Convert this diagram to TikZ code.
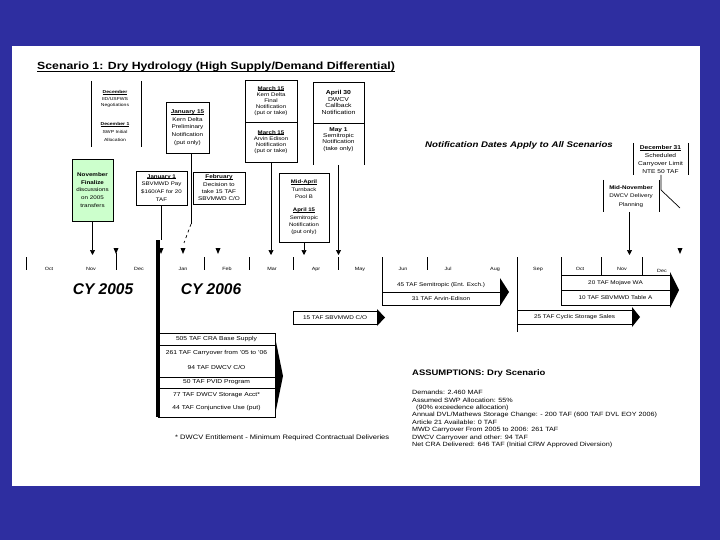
\documentclass[tikz,border=0pt]{standalone}
\usepackage{fontspec}
\setmainfont[FakeStretch=1.18]{Liberation Sans}
\newfontfamily\cyfont{Liberation Sans}
\usetikzlibrary{arrows.meta}
\definecolor{bgblue}{RGB}{46,46,160}
\definecolor{notegreen}{RGB}{204,255,204}
\newcommand\uhd[1]{\setbox0\hbox{\textbf{#1}}\rlap{\rule[-0.6pt]{\wd0}{0.3pt}}\box0}
\newcommand\uttl[1]{\setbox0\hbox{#1}\rlap{\rule[-1.6pt]{\wd0}{0.6pt}}\box0}
\newcommand\fs[2]{\fontsize{#1}{#2}\selectfont}
\tikzset{
  txt/.style={align=center, inner sep=0pt},
  boxed/.style={draw, line width=0.7pt},
  conn/.style={line width=0.7pt, -{Triangle[length=5pt,width=5pt]}},
  plain/.style={line width=0.7pt},
  month/.style={font=\fs{4.6}{5.5}, inner sep=0pt},
  bartxt/.style={font=\fs{5.4}{6}, inner sep=0pt},
  stacktxt/.style={font=\fs{5.7}{6}, inner sep=0pt},
  tri/.pic={\fill (-2.5pt,3pt) -- (2.5pt,3pt) -- (0pt,-3pt) -- cycle;},
}
\begin{document}
\begin{tikzpicture}[x=1pt,y=-1pt]
\fill[bgblue] (0,0) rectangle (720,540);
\useasboundingbox (0,0) rectangle (720,540);
\fill[white] (12,46) rectangle (700,486);

% title
\node[anchor=west, font=\fs{10.4}{12}\bfseries, inner sep=0pt] (title) at (37,67)
  {\uttl{Scenario 1: Dry Hydrology (High Supply/Demand Differential)}};

% December group (side lines only)
\draw[plain] (91,81) -- (91,147);
\draw[plain] (141,81) -- (141,147);
\node[txt, font=\fs{4.3}{6.8}] (dec) at (115,99) {\uhd{December}\\IID/USFWS\\Negotiations};
\node[txt, font=\fs{4.3}{7.6}] (dec1) at (115,132) {\uhd{December 1}\\SWP Initial\\Allocation};

% January 15
\node[txt, boxed, font=\fs{5.4}{7.7}, minimum width=43, minimum height=51] (jan15) at (187.5,127.5)
  {\uhd{January 15}\\Kern Delta\\Preliminary\\Notification\\(put only)};

% March 15 double box
\node[txt, boxed, font=\fs{5.2}{6.1}, minimum width=52, minimum height=42] (marA) at (271,101)
  {\uhd{March 15}\\Kern Delta\\Final\\Notification\\(put or take)};
\node[txt, boxed, font=\fs{5.2}{6.1}, minimum width=52, minimum height=40] (marB) at (271,142)
  {\uhd{March 15}\\Arvin Edison\\Notification\\(put or take)};

% April 30 / May 1
\node[txt, boxed, font=\fs{5.8}{6.7}, minimum width=51, minimum height=41] (apr30) at (338.5,102.5)
  {\textbf{April 30}\\DWCV\\Callback\\Notification};
\draw[plain] (313,123) -- (313,165);
\draw[plain] (364,123) -- (364,165);
\node[txt, font=\fs{5.5}{6.2}] (may1) at (338.5,139.5) {\textbf{May 1}\\Semitropic\\Notification\\(take only)};
\coordinate (may1end) at (338.5,165);

% Mid-April
\node[txt, boxed, font=\fs{5.1}{7.3}, minimum width=50, minimum height=69] (midapr) at (304,207.5)
  {\uhd{Mid-April}\\Turnback\\Pool B\\[6pt]\uhd{April 15}\\Semitropic\\Notification\\(put only)};

% November (green)
\node[txt, boxed, fill=notegreen, font=\fs{5.3}{7.6}, minimum width=41, minimum height=62] (nov) at (92.5,190)
  {\textbf{November}\\\textbf{Finalize}\\discussions\\on 2005\\transfers};

% January 1
\node[txt, boxed, font=\fs{5.2}{7.8}, minimum width=51, minimum height=34] (jan1) at (161.5,188)
  {\uhd{January 1}\\SBVMWD Pay\\\$160/AF for 20\\TAF};

% February
\node[txt, boxed, font=\fs{5.4}{7.3}, minimum width=52, minimum height=32] (feb) at (219,188)
  {\uhd{February}\\Decision to\\take 15 TAF\\SBVMWD C/O};

% Notification note
\node[anchor=west, font=\fs{8.2}{9}\bfseries\itshape, inner sep=0pt] (note) at (425,145)
  {Notification Dates Apply to All Scenarios};

% December 31
\draw[plain] (633,143) -- (633,175);
\draw[plain] (688,143) -- (688,175);
\node[txt, font=\fs{5.6}{8.2}] (dec31) at (660.5,159.5) {\uhd{December 31}\\Scheduled\\Carryover Limit\\NTE 50 TAF};
\coordinate (dec31end) at (661,175);

% Mid-November
\draw[plain] (603,180) -- (603,212);
\draw[plain] (659,180) -- (659,212);
\node[txt, font=\fs{5.3}{8.4}] (midnov) at (631,196.5) {\textbf{Mid-November}\\DWCV Delivery\\Planning};
\coordinate (midnovend) at (629.5,212);

% arrow targets
\coordinate (tNov) at (92.5,255);
\coordinate (tMar) at (271,255);
\coordinate (tApr) at (304,255);
\coordinate (tMay) at (338.5,255);
\coordinate (tMidNov) at (629.5,255);
\coordinate (jbreak) at (191,224);
\coordinate (jslant) at (184,243);
\coordinate (barTop) at (161.5,240);
\coordinate (d31a) at (661,190);
\coordinate (d31b) at (680,208);

% connectors
\draw[conn] (nov.south) -- (tNov);
\draw[conn] (marB.south) -- (tMar);
\draw[conn] (midapr.south) -- (tApr);
\draw[conn] (may1end) -- (tMay);
\draw[conn] (midnovend) -- (tMidNov);
\draw[plain] (jan1.south) -- (barTop);
\draw[plain] (jan15.south) ++(3.5,0) -- (jbreak);
\draw[plain, dashed] (jbreak) -- (jslant);
\draw[plain] (dec31end) -- (d31a) -- (d31b);

% free arrowheads
\pic at (116,251) {tri};
\pic at (161,251) {tri};
\pic at (183,251) {tri};
\pic at (218,251) {tri};
\pic at (680,251) {tri};

% thick bar
\draw[line width=4pt] (158,240) -- (158,417);

% timeline ticks
\foreach \x in {26,204,249,293,338,427} \draw[plain] (\x,257) -- (\x,270);
\draw[plain] (116,253) -- (116,270);
\draw[plain] (382,257) -- (382,305);
\draw[plain] (517,257) -- (517,332);
\draw[plain] (561,257) -- (561,305);
\draw[plain] (601,257) -- (601,275);
\draw[plain] (642,257) -- (642,275);

% month labels
\foreach \x/\m/\n in {49/Oct/m1,91/Nov/m2,139/Dec/m3,183/Jan/m4,227/Feb/m5,272/Mar/m6,316/Apr/m7,360/May/m8,403/Jun/m9,448/Jul/m10,495/Aug/m11,538/Sep/m12,580/Oct/m13,622/Nov/m14}
  \node[month] (\n) at (\x,269) {\m};
\node[month] (m15) at (662,271) {Dec};

% calendar years
\node[font=\cyfont\fs{15.5}{17}\bfseries\itshape, inner sep=0pt] (cy5) at (103,289) {CY 2005};
\node[font=\cyfont\fs{15.5}{17}\bfseries\itshape, inner sep=0pt] (cy6) at (211,289) {CY 2006};

% Semitropic / Arvin-Edison bar
\draw[plain] (382,292) -- (500,292);
\draw[plain] (382,305) -- (500,305);
\fill (500,278) -- (509,292) -- (500,306) -- cycle;
\node[bartxt] (b45) at (441,285) {45 TAF Semitropic (Ent. Exch.)};
\node[bartxt] (b31) at (441,298.5) {31 TAF Arvin-Edison};

% Mojave / SBVMWD bar
\draw[plain] (561,275) -- (670,275);
\draw[plain] (561,290) -- (670,290);
\draw[plain] (561,305) -- (670,305);
\fill (670,272) -- (679,290) -- (670,308) -- cycle;
\node[bartxt] (b20) at (615.5,283) {20 TAF Mojave WA};
\node[bartxt] (b10) at (615.5,297.5) {10 TAF SBVMWD Table A};

% SBVMWD C/O bar
\draw[plain] (293,311) rectangle (377,324);
\fill (377,309) -- (385,317.5) -- (377,326) -- cycle;
\node[bartxt] (b15) at (335,317.5) {15 TAF SBVMWD C/O};

% Cyclic storage bar
\draw[plain] (517,310) -- (632,310);
\draw[plain] (517,324) -- (632,324);
\fill (632,307) -- (640,317) -- (632,327) -- cycle;
\node[bartxt] (b25) at (574.5,317) {25 TAF Cyclic Storage Sales};

% CRA supply stack
\draw[plain] (158,333) rectangle (275,417);
\foreach \y in {345,377,388} \draw[plain] (158,\y) -- (275,\y);
\fill (275,337) -- (283,376) -- (275,415) -- cycle;
\node[stacktxt] (s1) at (216.5,339) {505 TAF CRA Base Supply};
\node[stacktxt] (s2) at (216.5,353) {261 TAF Carryover from '05 to '06};
\node[stacktxt] (s3) at (216.5,367) {94 TAF DWCV C/O};
\node[stacktxt] (s4) at (216.5,382.5) {50 TAF PVID Program};
\node[stacktxt] (s5) at (216.5,395) {77 TAF DWCV Storage Acct*};
\node[stacktxt] (s6) at (216.5,408.5) {44 TAF Conjunctive Use (put)};

% footnote
\node[anchor=west, font=\fs{6.4}{7}, inner sep=0pt] (foot) at (175,438)
  {* DWCV Entitlement - Minimum Required Contractual Deliveries};

% assumptions
\node[anchor=west, font=\fs{8}{9}\bfseries, inner sep=0pt] (ass) at (412,373)
  {ASSUMPTIONS: Dry Scenario};
\node[anchor=north west, align=left, font=\fs{6.1}{7.45}, inner sep=0pt] (asslist) at (412,390)
  {Demands: 2.460 MAF\\
   Assumed SWP Allocation: 55\%\\
   \hspace{4pt}(90\% exceedence allocation)\\
   Annual DVL/Mathews Storage Change: - 200 TAF (600 TAF DVL EOY 2006)\\
   Article 21 Available: 0 TAF\\
   MWD Carryover From 2005 to 2006: 261 TAF\\
   DWCV Carryover and other: 94 TAF\\
   Net CRA Delivered: 646 TAF (Initial CRW Approved Diversion)};
\end{tikzpicture}
\end{document}
